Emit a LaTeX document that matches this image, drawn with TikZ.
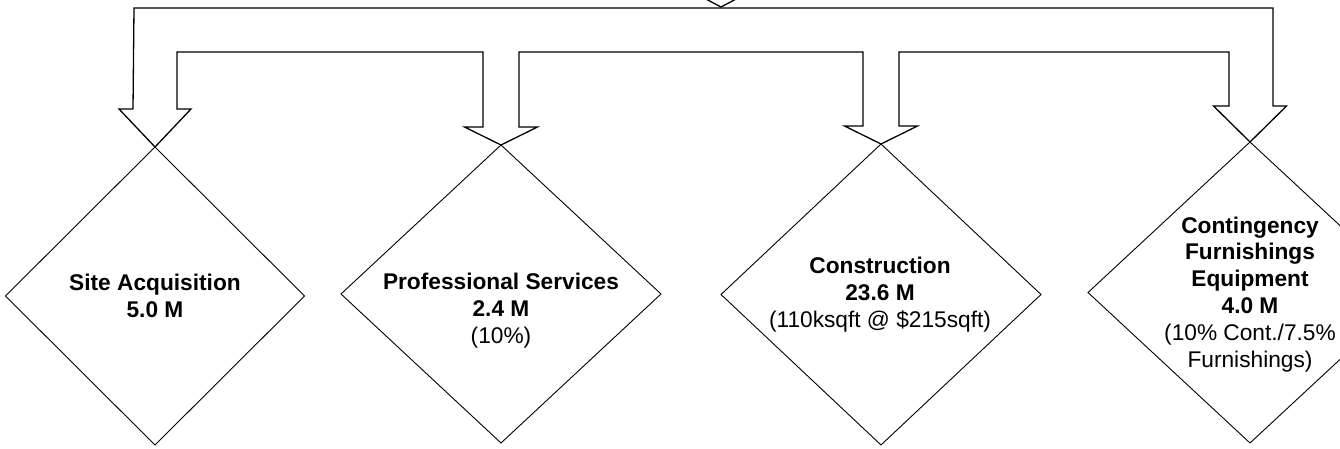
\documentclass[tikz,border=0pt]{standalone}
\usepackage{fontspec}
\setmainfont{Liberation Sans}
\usetikzlibrary{shapes.geometric,calc}

\tikzset{
  costbox/.style={shape=diamond, draw, line width=0.9pt, inner sep=0pt, outer sep=0pt},
  % the base anchor of a multi-line label sits on its last line
  costtext/.style={align=center, anchor=base, inner sep=0pt,
    font=\fontsize{22.7}{26.8}\selectfont},
  blockarrow/.style={draw, line width=1.3pt, line join=miter}
}

\begin{document}
\begin{tikzpicture}[x=1pt,y=-1pt]
  \useasboundingbox (0,0) rectangle (1340,449);
  \clip (0,0) rectangle (1340,449);

  % cost components
  \node[costbox, minimum width=299pt, minimum height=298pt] (site)   at (155,296)   {};
  \node[costbox, minimum width=320pt, minimum height=298pt] (prof)   at (501,294)   {};
  \node[costbox, minimum width=320pt, minimum height=301pt] (constr) at (881,294.5) {};
  \node[costbox, minimum width=324pt, minimum height=301pt] (cont)   at (1250,292.5){};

  \node[costtext] (siteT) at (155,317.5)
    {\textbf{Site Acquisition}\\\textbf{5.0 M}};
  \node[costtext] (profT) at (501,343.5)
    {\textbf{Professional Services}\\\textbf{2.4 M}\\(10\%)};
  \node[costtext] (constrT) at (880,327.5)
    {\textbf{Construction}\\\textbf{23.6 M}\\(110ksqft @ \$215sqft)};
  \node[costtext] (contT) at (1250,367)
    {\textbf{Contingency}\\\textbf{Furnishings}\\\textbf{Equipment}\\\textbf{4.0 M}\\(10\% Cont./7.5\%\\Furnishings)};

  % incoming arrow whose tip rests on the distribution bar
  \coordinate (src) at (721,7);
  \draw[blockarrow] ($(src)+(-18,-70)$) -- ($(src)+(-18,-19)$) -- ($(src)+(-36,-19)$)
    -- (src) -- ($(src)+(36,-19)$) -- ($(src)+(18,-19)$) -- ($(src)+(18,-70)$);

  % distribution bar with its four branch arrows
  \draw[blockarrow]
    ($(site.north)+(-22,-38)$) -- ($(site.north)+(-36,-38)$) -- (site.north)
    -- ($(site.north)+(36,-38)$) -- ($(site.north)+(22,-38)$)
    |- ($(prof.north)+(-18,-93)$) -- ($(prof.north)+(-18,-18)$)
    -- ($(prof.north)+(-36.5,-18)$) -- (prof.north) -- ($(prof.north)+(36.5,-18)$)
    -- ($(prof.north)+(18,-18)$) -- ($(prof.north)+(18,-93)$)
    -- ($(constr.north)+(-18,-92)$) -- ($(constr.north)+(-18,-18)$)
    -- ($(constr.north)+(-36.5,-18)$) -- (constr.north) -- ($(constr.north)+(36.5,-18)$)
    -- ($(constr.north)+(18,-18)$) -- ($(constr.north)+(18,-92)$)
    -| ($(cont.north)+(-21,-36)$) -- ($(cont.north)+(-36.5,-36)$) -- (cont.north)
    -- ($(cont.north)+(36.5,-36)$) -- ($(cont.north)+(23,-36)$)
    |- (134,8) -- ($(site.north)+(-22,-38)$);
\end{tikzpicture}
\end{document}
